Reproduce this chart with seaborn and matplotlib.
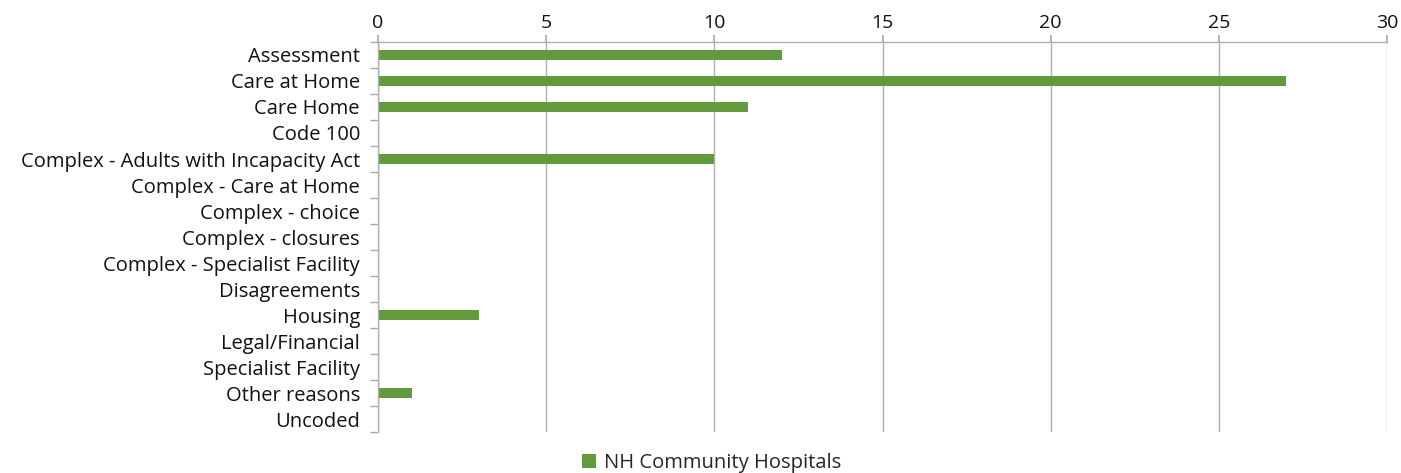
import matplotlib
matplotlib.use("Agg")
import matplotlib.pyplot as plt
import seaborn as sns
import pandas as pd
import numpy as np

categories = ["Assessment", "Care at Home", "Care Home", "Code 100",
              "Complex - Adults with Incapacity Act", "Complex - Care at Home",
              "Complex - choice", "Complex - closures",
              "Complex - Specialist Facility", "Disagreements", "Housing",
              "Legal/Financial", "Specialist Facility", "Other reasons", "Uncoded"]
values = [12, 27, 11, 0, 10, 0, 0, 0, 0, 0, 3, 0, 0, 1, 0]
series_name = "NH Community Hospitals"
x_ticks = [0, 5, 10, 15, 20, 25, 30]

df = pd.DataFrame({"category": categories, "value": values, "series": series_name})

sns.set_theme(style="white")
plt.rcParams['font.family'] = ['Open Sans', 'DejaVu Sans']

fig = plt.figure(figsize=(14.01, 4.73), dpi=100)
ax = fig.add_axes([378/1401, 1 - 432/473, (1387-378)/1401, (432-42)/473])

sns.barplot(data=df, x="value", y="category", hue="series", orient="h",
            palette=["#629B3E"], width=0.4, saturation=1, linewidth=0,
            ax=ax, legend=True)

ax.set_xlim(0, 30)
ax.set_ylim(len(categories) - 0.5, -0.5)
ax.xaxis.tick_top()
ax.set_xticks(x_ticks)
ax.set_xticklabels([str(t) for t in x_ticks], fontsize=14, color="#111111")
ax.tick_params(axis="x", top=True, length=5, color="#aaaaaa", pad=2)
ax.grid(axis="x", color="#b0b0b0", linewidth=1)
ax.set_axisbelow(True)
ax.set_xlabel("")
ax.set_ylabel("")

ax.set_yticks(np.arange(len(categories)))
ax.set_yticklabels(categories)
ax.tick_params(axis="y", which="major", left=False, labelsize=14.5, labelcolor="#111111", pad=7)
ax.yaxis.set_minor_locator(matplotlib.ticker.FixedLocator(np.arange(len(categories) + 1) - 0.5))
ax.tick_params(axis="y", which="minor", left=True, length=6, color="#aaaaaa", width=1)

for s in ["right", "bottom"]:
    ax.spines[s].set_visible(False)
for s in ["left", "top"]:
    ax.spines[s].set_color("#b0b0b0")
    ax.spines[s].set_linewidth(1)

ax.legend_.remove()
handles, labels = ax.get_legend_handles_labels()
fig.legend(handles, labels, loc="center", bbox_to_anchor=(0.508, 1 - 463/473),
           frameon=False, fontsize=14.5, handlelength=0.7, handleheight=0.7,
           handletextpad=0.4, borderpad=0)

fig.savefig("out.png", dpi=100)
